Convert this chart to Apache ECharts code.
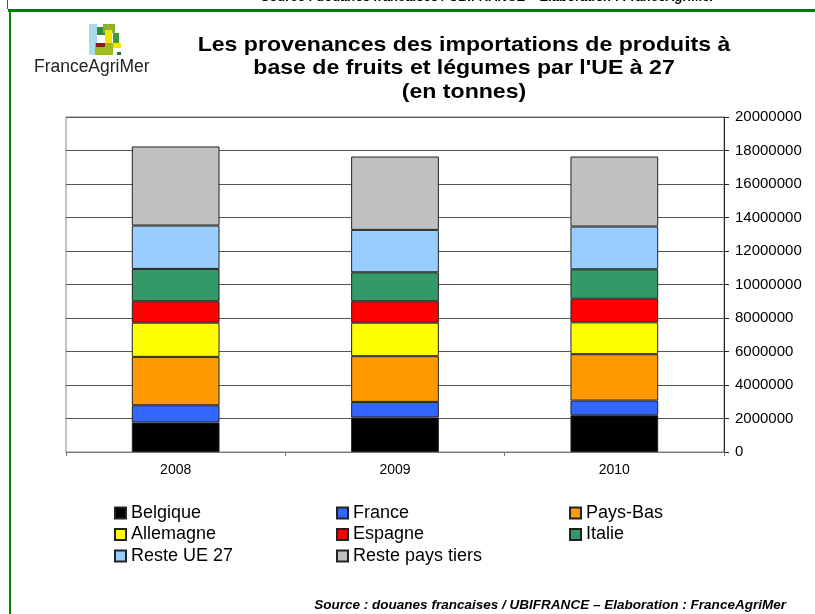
<!DOCTYPE html>
<html>
<head>
<meta charset="UTF-8">
<title>Importations UE 27</title>
<script src="https://cdn.jsdelivr.net/npm/echarts@6/dist/echarts.min.js"></script>
<style>
  html, body { margin: 0; padding: 0; background: #fff; }
  #main { width: 815px; height: 614px; }
</style>
</head>
<body>
<div id="main"></div>
<script type="text/javascript">
// annees
var years = ['2008', '2009', '2010'];
// tonnes
var belgique   = [1760000, 2060000, 2190000];
var france     = [1030000,  930000,  880000];
var paysBas    = [2890000, 2730000, 2770000];
var allemagne  = [2040000, 2000000, 1900000];
var espagne    = [1280000, 1280000, 1410000];
var italie     = [1930000, 1730000, 1760000];
var resteUE    = [2590000, 2530000, 2550000];
var resteTiers = [4720000, 4380000, 4180000];

var yTicks = [0, 20000000, 2000000]; // min, max, interval

var seriesNames = ['Belgique', 'France', 'Pays-Bas', 'Allemagne', 'Espagne', 'Italie', 'Reste UE 27', 'Reste pays tiers'];
var seriesData = [belgique, france, paysBas, allemagne, espagne, italie, resteUE, resteTiers];
var colors = ['#000000', '#3366FF', '#FF9900', '#FFFF00', '#FF0000', '#339966', '#99CCFF', '#C0C0C0'];

var titleText = "Les provenances des importations de produits à\nbase de fruits et légumes par l'UE à 27\n(en tonnes)";
var sourceText = 'Source : douanes francaises / UBIFRANCE – Elaboration : FranceAgriMer';

var chartDom = document.getElementById('main');
var myChart = echarts.init(chartDom);

var series = [];
for (var i = 0; i < seriesNames.length; i++) {
  series.push({
    name: seriesNames[i],
    type: 'bar',
    stack: 'total',
    barWidth: '40%',
    data: seriesData[i],
    itemStyle: { color: colors[i], borderColor: '#222', borderWidth: 1 }
  });
}

function legendCol(names, left) {
  return {
    orient: 'vertical',
    left: left,
    top: 504,
    padding: 0,
    itemWidth: 11,
    itemHeight: 11,
    itemGap: 3.5,
    icon: 'rect',
    selectedMode: false,
    data: names,
    textStyle: { fontFamily: 'Liberation Sans, Arial', fontSize: 18, color: '#000', lineHeight: 18 }
  };
}

// petit logo en carrés de couleur
var logo = [
  [89, 24, 8, 31, '#A8DCEB'],
  [97, 27, 11, 8, '#2E8B3A'],
  [103, 24, 12, 9, '#8DB02A'],
  [105, 30, 7, 13, '#F2E600'],
  [95, 43, 18, 12, '#9DBB1E'],
  [96, 43, 9, 4, '#8B1A1A'],
  [113, 33, 6, 10, '#3C9A3C'],
  [113, 43, 8, 5, '#F2E600'],
  [117, 52, 4, 3, '#1E7A2E']
];
var graphics = [];
logo.forEach(function (r) {
  graphics.push({ type: 'rect', shape: { x: r[0], y: r[1], width: r[2], height: r[3] }, style: { fill: r[4] }, silent: true });
});
graphics.push(
  { type: 'rect', shape: { x: 8, y: 9, width: 807, height: 3 }, style: { fill: '#008000' }, silent: true },
  { type: 'rect', shape: { x: 9, y: 9, width: 2, height: 605 }, style: { fill: '#008000' }, silent: true },
  { type: 'rect', shape: { x: 7, y: 0, width: 1, height: 9 }, style: { fill: '#555' }, silent: true },
  { type: 'text', x: 34, y: 58, scaleX: 0.97, style: { text: 'FranceAgriMer', fontFamily: 'Liberation Sans, Arial', fontSize: 18, fill: '#222' } },
  { type: 'text', x: 464, y: 33, scaleX: 1.1, style: { text: titleText, align: 'center', fontFamily: 'Liberation Sans, Arial', fontWeight: 'bold', fontSize: 21, lineHeight: 23.5, fill: '#000' } },
  { type: 'text', x: 488, y: 4, style: { text: sourceText, align: 'center', verticalAlign: 'bottom', fontFamily: 'Liberation Sans, Arial', fontWeight: 'bold', fontStyle: 'italic', fontSize: 13, fill: '#000' } },
  { type: 'text', x: 786, y: 599, scaleX: 1.04, style: { text: sourceText, align: 'right', fontFamily: 'Liberation Sans, Arial', fontWeight: 'bold', fontStyle: 'italic', fontSize: 13, fill: '#000' } }
);

myChart.setOption({
  animation: false,
  backgroundColor: '#fff',
  color: colors,
  grid: { left: 66, right: 91, top: 117, bottom: 162, show: true, borderColor: '#888', borderWidth: 1 },
  legend: [
    legendCol(['Belgique', 'Allemagne', 'Reste UE 27'], 114),
    legendCol(['France', 'Espagne', 'Reste pays tiers'], 336),
    legendCol(['Pays-Bas', 'Italie'], 569)
  ],
  xAxis: {
    type: 'category',
    data: years,
    axisLine: { lineStyle: { color: '#777' } },
    axisTick: { show: true, length: 4, lineStyle: { color: '#777' } },
    axisLabel: { margin: 11, fontFamily: 'Liberation Sans, Arial', fontSize: 14, color: '#000' }
  },
  yAxis: {
    type: 'value',
    position: 'right',
    min: yTicks[0],
    max: yTicks[1],
    interval: yTicks[2],
    axisLine: { show: true, lineStyle: { color: '#222' } },
    axisTick: { show: true, length: 5, lineStyle: { color: '#222' } },
    axisLabel: {
      margin: 11, fontFamily: 'Liberation Sans, Arial', fontSize: 15, color: '#000',
      formatter: function (v) { return String(v); }
    },
    splitLine: { show: true, lineStyle: { color: '#555', width: 1 } }
  },
  graphic: graphics,
  series: series
});
</script>
</body>
</html>
